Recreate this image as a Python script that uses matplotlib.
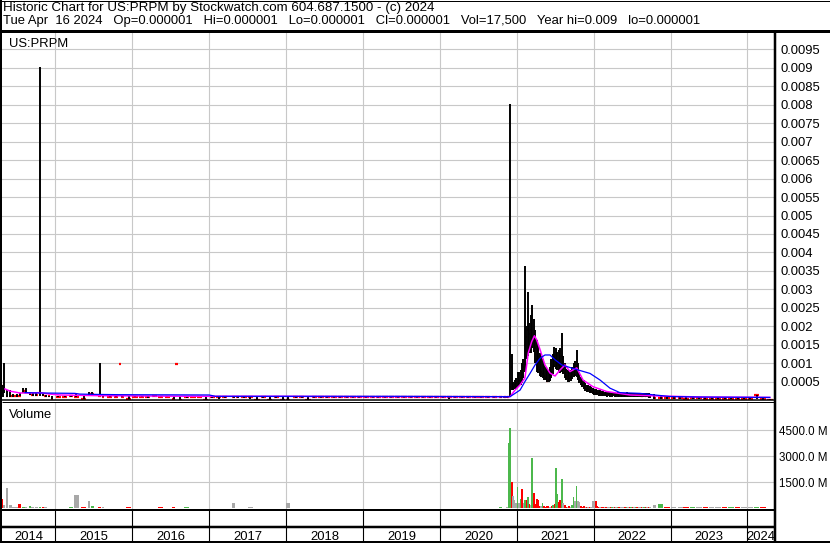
import numpy as np
import pandas as pd
import matplotlib
matplotlib.use('Agg')
import matplotlib.pyplot as plt
import matplotlib.dates as mdates
from matplotlib.lines import Line2D

plt.rcParams['font.family'] = ['Liberation Sans', 'DejaVu Sans']
FS = 9.4

# ---- header / labels ----
title_line = "Historic Chart for US:PRPM by Stockwatch.com 604.687.1500 - (c) 2024"
quote_line = ("Tue Apr  16 2024   Op=0.000001   Hi=0.000001   Lo=0.000001   "
              "Cl=0.000001   Vol=17,500   Year hi=0.009   lo=0.000001")
symbol = "US:PRPM"
price_ticks = [0.0005, 0.001, 0.0015, 0.002, 0.0025, 0.003, 0.0035, 0.004, 0.0045,
               0.005, 0.0055, 0.006, 0.0065, 0.007, 0.0075, 0.008, 0.0085, 0.009, 0.0095]
vol_ticks = [1500, 3000, 4500]          # millions of shares
years = list(range(2014, 2025))

# ---- price bars (low / high / close) and volume (M), by section ----
# volume direction: 1 up, -1 down, 0 unchanged
d14 = ['2014-04-25', '2014-05-01', '2014-05-15', '2014-06-01', '2014-06-15', '2014-07-01',
       '2014-07-15', '2014-08-01', '2014-08-15', '2014-09-01', '2014-09-15', '2014-10-01',
       '2014-10-20', '2014-11-01', '2014-11-15', '2014-12-01', '2014-12-15']
lo14 = [.00008, .00019, .00008, .00008, .00008, .00008, .00010, .00019, .00019, .00014, .00011,
        .00011, .00011, .00011, .00009, .00009, .00003]
hi14 = [.00040, .00100, .00027, .00027, .00015, .00015, .00020, .00033, .00033, .00022, .00019,
        .00019, .00903, .00016, .00014, .00012, .00012]
cl14 = [.00039, .00030, .00012, .00012, .00010, .00010, .00012, .00025, .00022, .00015, .00014,
        .00013, .00015, .00013, .00010, .00010, .00003]
vo14 = [540, 190, 1170, 190, 60, 50, 250, 60, 50, 130, 50, 50, 80, 50, 50, 40, 40]
dr14 = [-1, 0, 0, 0, 0, 0, -1, 1, 0, 1, 0, 0, 1, -1, 0, 0, -1]

d15 = ['2015-01-15', '2015-02-15', '2015-03-15', '2015-04-10', '2015-05-15', '2015-06-10',
       '2015-06-25', '2015-07-30', '2015-08-15', '2015-09-15', '2015-10-15', '2015-11-02',
       '2015-11-15', '2015-12-15']
lo15 = [.00008, .00008, .00008, .00008, .00003, .00011, .00011, .00010, .00008, .00008, .00008,
        .00098, .00008, .00002]
hi15 = [.00012, .00012, .00012, .00018, .00012, .00022, .00022, .00100, .00012, .00012, .00012,
        .00098, .00012, .00012]
cl15 = [.00009, .00009, .00010, .00009, .00003, .00015, .00016, .00012, .00009, .00009, .00009,
        .00098, .00009, .00002]
vo15 = [40, 40, 60, 770, 50, 420, 120, 60, 50, 40, 40, 20, 40, 50]
dr15 = [0, 0, 1, 0, -1, 0, 1, -1, 0, 0, 0, 0, 0, -1]

d16 = ['2016-01-15', '2016-02-15', '2016-03-15', '2016-04-15', '2016-05-15', '2016-06-15',
       '2016-07-15', '2016-07-30', '2016-08-15', '2016-09-15', '2016-10-15', '2016-11-15',
       '2016-12-15']
lo16 = [.00007, .00007, .00006, .00007, .00007, .00007, .00003, .00098, .00001, .00006, .00007,
        .00007, .00001]
hi16 = [.00012, .00012, .00011, .00012, .00012, .00011, .00012, .00098, .00011, .00012, .00011,
        .00011, .00011]
cl16 = [.00009, .00009, .00009, .00010, .00009, .00009, .00004, .00098, .00001, .00009, .00009,
        .00009, .00001]
vo16 = [40, 40, 40, 40, 50, 40, 60, 20, 40, 50, 40, 40, 40]
dr16 = [0, 0, 0, 1, -1, 0, -1, 0, -1, 1, 0, 0, -1]

d17 = ['2017-01-15', '2017-02-15', '2017-03-15', '2017-04-26', '2017-05-15', '2017-06-15',
       '2017-07-15', '2017-08-15', '2017-09-15', '2017-10-15', '2017-11-15', '2017-12-15']
lo17 = [.00006, .00004, .00006, .00005, .00006, .00006, .00004, .00001, .00006, .00001, .00006, .00001]
hi17 = [.00011, .00011, .00011, .00012, .00011, .00011, .00011, .00011, .00011, .00011, .00011, .00011]
cl17 = [.00009, .00009, .00009, .00009, .00009, .00009, .00009, .00001, .00009, .00001, .00009, .00001]
vo17 = [40, 40, 40, 320, 40, 40, 50, 40, 40, 40, 40, 40]
dr17 = [1, 0, 0, 0, 0, 0, 0, -1, 1, -1, 1, -1]

d18 = ['2018-01-08', '2018-02-15', '2018-03-15', '2018-04-15', '2018-05-15', '2018-06-15',
       '2018-07-15', '2018-08-15', '2018-09-15', '2018-10-15', '2018-11-15', '2018-12-15']
lo18 = [.00001, .00006, .00006, .00001, .00006, .00005, .00006, .00006, .00005, .00006, .00006, .00005]
hi18 = [.00011, .00011, .00011, .00011, .00011, .00011, .00011, .00011, .00011, .00011, .00011, .00011]
cl18 = [.00001, .00009, .00009, .00001, .00009, .00008, .00009, .00008, .00008, .00009, .00008, .00008]
vo18 = [320, 40, 40, 40, 40, 40, 40, 40, 40, 40, 40, 40]
dr18 = [0, 1, 0, -1, 1, -1, 1, -1, 0, 1, -1, 0]

d19 = ['2019-01-15', '2019-02-15', '2019-03-15', '2019-04-15', '2019-05-15', '2019-06-15',
       '2019-07-15', '2019-08-15', '2019-09-15', '2019-10-15', '2019-11-15', '2019-12-15']
lo19 = [.00005, .00005, .00005, .00006, .00005, .00005, .00005, .00005, .00005, .00005, .00005, .00005]
hi19 = [.00010, .00010, .00010, .00010, .00010, .00010, .00010, .00010, .00010, .00010, .00010, .00010]
cl19 = [.00008, .00008, .00008, .00008, .00008, .00008, .00008, .00008, .00008, .00008, .00008, .00008]
vo19 = [40, 40, 40, 40, 40, 40, 40, 40, 40, 40, 40, 40]
dr19 = [0, 0, -1, 1, 0, 0, -1, 0, 1, 0, -1, 0]

d20 = ['2020-01-15', '2020-02-15', '2020-03-15', '2020-04-15', '2020-05-15', '2020-06-15',
       '2020-07-15', '2020-08-15', '2020-09-15', '2020-10-15']
lo20 = [.00005, .00004, .00005, .00005, .00005, .00005, .00005, .00005, .00005, .00005]
hi20 = [.00010, .00010, .00010, .00010, .00010, .00010, .00010, .00010, .00010, .00011]
cl20 = [.00008, .00007, .00008, .00008, .00008, .00008, .00008, .00008, .00008, .00009]
vo20 = [40, 40, 40, 40, 40, 40, 40, 40, 40, 50]
dr20 = [-1, -1, 1, 0, 0, 0, 0, -1, 0, 1]

# weekly through the Nov 2020 - Sep 2022 run
wk_dates = pd.date_range('2020-11-02', periods=100, freq='7D')
lo_wk = [.00006, .00006, .00006, .00007, .00008, .00027, .00027, .00030, .00030, .00035,
         .00038, .00040, .00045, .00060, .00075, .00110, .00120, .00127, .00127, .00140,
         .00130, .00100, .00075, .00073, .00065, .00062, .00060, .00055, .00054, .00050,
         .00050, .00052, .00060, .00070, .00090, .00085, .00080, .00075, .00073, .00075,
         .00070, .00060, .00055, .00050, .00050, .00052, .00058, .00062, .00065, .00062,
         .00055, .00045, .00040, .00035, .00030, .00025, .00022, .00022, .00020, .00018,
         .00015, .00014, .00013, .00013, .00012, .00012, .00011, .00011, .00010, .00010,
         .00009, .00010, .00009, .00009, .00010, .00009, .00008, .00009, .00009, .00008,
         .00009, .00008, .00008, .00009, .00008, .00008, .00009, .00008, .00008, .00008,
         .00007, .00008, .00008, .00007, .00007, .00008, .00007, .00007, .00006, .00006]
hi_wk = [.00010, .00010, .00011, .00012, .00803, .00125, .00050, .00054, .00060, .00077,
         .00075, .00081, .00100, .00110, .00364, .00200, .00294, .00210, .00230, .00258,
         .00220, .00190, .00163, .00150, .00128, .00120, .00110, .00100, .00090, .00085,
         .00080, .00090, .00110, .00125, .00144, .00140, .00130, .00135, .00140, .00182,
         .00120, .00100, .00085, .00081, .00078, .00080, .00090, .00100, .00105, .00136,
         .00100, .00075, .00062, .00060, .00055, .00046, .00040, .00042, .00038, .00035,
         .00032, .00030, .00030, .00028, .00027, .00026, .00025, .00024, .00023, .00022,
         .00022, .00021, .00021, .00020, .00022, .00020, .00020, .00021, .00020, .00019,
         .00020, .00020, .00019, .00021, .00019, .00019, .00020, .00019, .00019, .00020,
         .00019, .00019, .00020, .00019, .00018, .00019, .00019, .00018, .00018, .00017]
cl_wk = [.00008, .00008, .00009, .00009, .00035, .00090, .00035, .00040, .00045, .00050,
         .00055, .00060, .00070, .00090, .00150, .00170, .00190, .00180, .00190, .00240,
         .00170, .00140, .00110, .00090, .00080, .00075, .00070, .00065, .00060, .00052,
         .00055, .00060, .00075, .00090, .00120, .00110, .00100, .00095, .00090, .00120,
         .00085, .00075, .00065, .00060, .00060, .00062, .00070, .00080, .00085, .00090,
         .00075, .00055, .00048, .00042, .00038, .00032, .00030, .00030, .00028, .00025,
         .00022, .00020, .00020, .00019, .00018, .00018, .00017, .00016, .00016, .00015,
         .00015, .00015, .00014, .00015, .00015, .00014, .00014, .00015, .00014, .00014,
         .00014, .00014, .00013, .00014, .00014, .00013, .00014, .00013, .00013, .00014,
         .00013, .00013, .00013, .00012, .00012, .00013, .00012, .00012, .00011, .00011]
vo_wk = [40, 40, 60, 3790, 4615, 1535, 710, 480, 300, 1210,
         300, 520, 1100, 300, 480, 460, 670, 250, 200, 2885,
         865, 250, 550, 480, 150, 120, 320, 150, 100, 150,
         120, 100, 150, 200, 250, 2300, 800, 350, 480, 1670,
         290, 200, 100, 80, 150, 100, 200, 630, 400, 1290,
         400, 350, 150, 100, 120, 80, 100, 60, 80, 60,
         420, 420, 400, 150, 80, 60, 80, 60, 60, 100,
         60, 60, 80, 60, 60, 100, 60, 60, 80, 60,
         60, 60, 80, 60, 60, 60, 100, 60, 60, 60,
         60, 80, 60, 60, 60, 60, 60, 60, 80, 60]
dr_wk = [0, -1, 0, 1, 1, -1, 0, 0, 0, 1,
         0, 1, -1, 0, 1, -1, 1, -1, 0, 1,
         -1, -1, -1, -1, -1, 0, 1, -1, -1, -1,
         -1, 0, -1, 1, -1, 1, 1, -1, -1, 1,
         0, -1, -1, 0, -1, 0, 1, 1, 0, 1,
         0, 0, -1, -1, -1, 0, -1, 0, -1, 0,
         0, 0, -1, -1, -1, 0, -1, -1, 0, -1,
         0, 0, -1, 1, 0, -1, 0, 1, -1, 0,
         0, 0, -1, 1, 0, -1, 1, -1, 0, 1,
         -1, 0, 0, -1, 0, 1, -1, 0, -1, 0]

dT = ['2022-10-15', '2022-11-15', '2022-12-15', '2023-01-15', '2023-02-15', '2023-03-15',
      '2023-04-15', '2023-05-15', '2023-06-15', '2023-07-15', '2023-08-15', '2023-09-15',
      '2023-10-15', '2023-11-15', '2023-12-15', '2024-01-15', '2024-02-13', '2024-03-15',
      '2024-04-16']
loT = [.00004, .00003, .00003, .00003, .00003, .00002, .00003, .00003, .00002, .00003, .00002,
       .00002, .00002, .00002, .00002, .00002, .00002, .00001, .000001]
hiT = [.00015, .00010, .00009, .00010, .00009, .00008, .00010, .00009, .00008, .00008, .00008,
       .00007, .00008, .00007, .00007, .00007, .00014, .00006, .00003]
clT = [.00006, .00005, .00005, .00005, .00005, .00004, .00005, .00005, .00004, .00004, .00004,
       .00003, .00004, .00003, .00003, .00003, .00013, .00002, .000001]
voT = [190, 250, 60, 60, 60, 60, 60, 60, 60, 60, 60, 60, 60, 60, 60, 60, 60, 60, 40]
drT = [0, 1, -1, 0, 0, -1, 1, 0, -1, 0, 0, -1, 1, -1, 0, 0, 1, -1, -1]

# ---- moving averages (magenta short, blue long) ----
ma_fast_dates = ['2014-05-06', '2014-05-30', '2014-07-16', '2014-09-02', '2014-10-19', '2014-12-06',
                 '2015-01-23', '2015-04-27', '2015-07-31', '2015-11-03', '2016-06-01', '2017-01-01',
                 '2018-01-01', '2019-01-01', '2020-06-01', '2020-11-29', '2020-12-23', '2021-01-16',
                 '2021-02-08', '2021-02-24', '2021-03-12', '2021-03-25', '2021-04-05', '2021-04-21',
                 '2021-05-14', '2021-06-07', '2021-07-01', '2021-07-24', '2021-08-17', '2021-09-10',
                 '2021-10-12', '2021-11-11', '2021-12-28', '2022-03-03', '2022-06-22', '2022-10-27',
                 '2023-06-01', '2024-04-16']
ma_fast = [0.00030, 0.00024, 0.00019, 0.00019, 0.00020, 0.00016, 0.000136, 0.000127, 0.000117,
           0.000114, 0.000105, 0.00010, 0.00010, 0.00009, 0.00009, 0.00009, 0.00027, 0.00041,
           0.00060, 0.00128, 0.00158, 0.00174, 0.00163, 0.00136, 0.00095, 0.00073, 0.00065,
           0.00081, 0.00095, 0.00077, 0.00087, 0.00054, 0.00036, 0.00023, 0.000136, 0.00011,
           0.00008, 0.00007]
ma_slow_dates = ['2014-08-09', '2014-10-19', '2015-04-03', '2015-04-27', '2015-07-31', '2015-11-03',
                 '2016-12-31', '2017-01-30', '2018-06-01', '2019-06-01', '2020-11-29', '2020-12-23',
                 '2021-01-16', '2021-02-08', '2021-03-04', '2021-03-28', '2021-04-21', '2021-05-14',
                 '2021-06-07', '2021-07-01', '2021-08-02', '2021-09-10', '2021-10-27', '2021-12-14',
                 '2022-01-31', '2022-03-19', '2022-05-05', '2022-08-08', '2022-10-18', '2022-12-28',
                 '2023-05-19', '2024-04-16']
ma_slow = [0.00020, 0.00019, 0.00018, 0.00016, 0.00015, 0.000144, 0.000136, 0.00010, 0.00010,
           0.00010, 0.00009, 0.00018, 0.00027, 0.00050, 0.00072, 0.00095, 0.00113, 0.00122,
           0.00122, 0.00109, 0.00095, 0.00088, 0.00080, 0.00072, 0.00054, 0.00032, 0.00020,
           0.00018, 0.000136, 0.000095, 0.00008, 0.00007]

# ---- assemble ----
date_parts = [d14, d15, d16, d17, d18, d19, d20, wk_dates, dT]
x = np.concatenate([mdates.date2num(pd.to_datetime(p)) for p in date_parts])
low = np.array(lo14 + lo15 + lo16 + lo17 + lo18 + lo19 + lo20 + lo_wk + loT)
high = np.array(hi14 + hi15 + hi16 + hi17 + hi18 + hi19 + hi20 + hi_wk + hiT)
close = np.array(cl14 + cl15 + cl16 + cl17 + cl18 + cl19 + cl20 + cl_wk + clT)
vol = np.array(vo14 + vo15 + vo16 + vo17 + vo18 + vo19 + vo20 + vo_wk + voT)
vdir = np.array(dr14 + dr15 + dr16 + dr17 + dr18 + dr19 + dr20 + dr_wk + drT)

gaps = np.diff(x)
width = np.minimum(np.r_[gaps[0], gaps], np.r_[gaps, gaps[-1]]) * 0.85

# ---- figure layout (pixel boxes) ----
W, H = 830, 543
fig = plt.figure(figsize=(W / 100, H / 100), dpi=100)


def box(l, t, r, b):
    return [l / W, 1 - b / H, (r - l) / W, (b - t) / H]


def rule(x0, y0, x1, y1, px):
    fig.add_artist(Line2D([x0 / W, x1 / W], [1 - y0 / H, 1 - y1 / H], transform=fig.transFigure,
                          color='black', lw=px * 0.72, solid_capstyle='butt'))


x_start = mdates.date2num(pd.Timestamp('2014-04-22'))
x_end = mdates.date2num(pd.Timestamp('2024-05-06'))
year_starts = mdates.date2num(pd.to_datetime([f'{y}-01-01' for y in years[1:]]))

ax = fig.add_axes(box(2, 31, 774, 400))
axv = fig.add_axes(box(2, 402, 774, 509.5))
axb = fig.add_axes(box(2, 509.5, 774, 542))

grid_c = '#C8C8C8'
for a in (ax, axv, axb):
    a.set_xlim(x_start, x_end)
    for s in a.spines.values():
        s.set_visible(False)
    a.tick_params(axis='x', bottom=False, labelbottom=False)
for a in (ax, axv):
    for xs in year_starts:
        a.axvline(xs, color=grid_c, lw=0.8, zorder=0)

# price panel
ax.set_ylim(0, 0.01)
ax.yaxis.tick_right()
ax.set_yticks(price_ticks)
ax.set_yticklabels([f'{v:g}' for v in price_ticks])
ax.tick_params(axis='y', length=0, pad=4.5, labelsize=FS)
for v in price_ticks:
    ax.axhline(v, color=grid_c, lw=0.8, zorder=0)
ax.hlines(close, x - width / 2, x + width / 2, color='#FF0000', lw=1.6, zorder=2)
ax.vlines(x, low, high, color='black', lw=1.4, zorder=3)
ax.plot(mdates.date2num(pd.to_datetime(ma_fast_dates)), ma_fast, color='#FF00FF', lw=1.1, zorder=4)
ax.plot(mdates.date2num(pd.to_datetime(ma_slow_dates)), ma_slow, color='#0000FF', lw=0.9, zorder=4)

# volume panel
axv.set_ylim(-70, 6133)
axv.yaxis.tick_right()
axv.set_yticks(vol_ticks)
axv.set_yticklabels([f'{v:.1f} M' for v in vol_ticks])
axv.tick_params(axis='y', length=0, pad=3.5, labelsize=8.3)
for v in vol_ticks:
    axv.axhline(v, color=grid_c, lw=0.8, zorder=0)
vcol = np.where(vdir > 0, '#4CB84C', np.where(vdir < 0, '#FF0000', '#A8A8A8'))
axv.bar(x, vol, width=np.maximum(width, 8.0), color=vcol, linewidth=0, zorder=2)

# date band
axb.set_ylim(0, 1)
axb.set_yticks([])
for xs in year_starts:
    axb.axvline(xs, color='black', lw=0.8)
bounds = [x_start] + list(year_starts) + [x_end]
for i, y in enumerate(years):
    axb.text((bounds[i] + bounds[i + 1]) / 2, (542 - 540) / 32.5, str(y), ha='center',
             va='baseline', fontsize=FS, transform=axb.get_xaxis_transform())

# text
fig.text(3 / W, 1 - 10.7 / H, title_line, fontsize=9.6, va='baseline')
fig.text(3 / W, 1 - 24 / H, quote_line, fontsize=FS, va='baseline')
fig.text(9 / W, 1 - 46.7 / H, symbol, fontsize=FS, va='baseline')
fig.text(9 / W, 1 - 418.3 / H, 'Volume', fontsize=FS, va='baseline')

# frame rules
rule(0, 30.5, W, 30.5, 3)
rule(774.5, 30, 774.5, H, 2.5)
rule(2, 399.5, 774, 399.5, 1.5)
rule(2, 402.3, 774, 402.3, 1)
rule(2, 509.5, 774, 509.5, 2)
rule(2, 526.5, 774, 526.5, 2.5)
rule(1, 0, 1, H, 2)
rule(0, 0.5, W, 0.5, 1)
rule(W - 0.5, 0, W - 0.5, H, 1)
rule(0, H - 1, W, H - 1, 2)

fig.savefig('out.png', dpi=100)
